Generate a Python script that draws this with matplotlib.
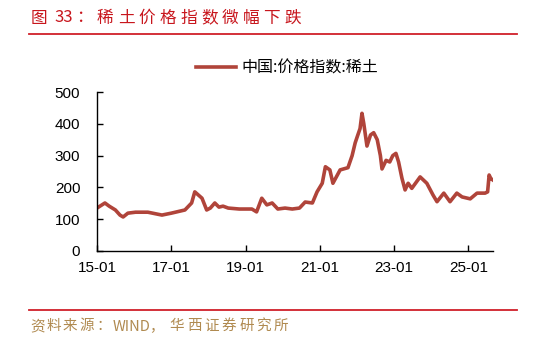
import matplotlib
matplotlib.use("Agg")
import matplotlib.pyplot as plt
import matplotlib.dates as mdates
import pandas as pd

plt.rcParams['font.family'] = ['Liberation Sans', 'Noto Sans CJK SC', 'DejaVu Sans']

title = "图 33：稀土价格指数微幅下跌"
source = "资料来源：WIND，华西证券研究所"
series_name = "中国:价格指数:稀土"

dates = ["2015-01-01", "2015-03-20", "2015-05-01", "2015-07-01", "2015-08-15", "2015-09-15",
         "2015-11-01", "2016-01-15", "2016-05-15", "2016-10-01", "2017-01-01", "2017-05-15",
         "2017-07-20", "2017-08-20", "2017-10-30", "2017-12-15", "2018-01-20", "2018-03-05",
         "2018-04-15", "2018-05-25", "2018-07-15", "2018-11-01", "2019-03-05", "2019-04-20",
         "2019-06-10", "2019-07-30", "2019-09-20", "2019-11-15", "2020-01-25", "2020-04-05",
         "2020-06-15", "2020-08-10", "2020-10-20", "2020-12-05", "2021-01-25", "2021-02-25",
         "2021-04-10", "2021-05-10", "2021-07-20", "2021-10-05", "2021-11-15", "2021-12-15",
         "2022-01-05", "2022-02-01", "2022-02-20", "2022-03-10", "2022-04-10", "2022-05-15",
         "2022-06-15", "2022-07-20", "2022-08-20", "2022-09-05", "2022-10-15", "2022-11-20",
         "2022-12-20", "2023-01-20", "2023-02-15", "2023-03-20", "2023-04-20", "2023-05-20",
         "2023-06-25", "2023-09-15", "2023-11-20", "2024-01-20", "2024-02-28", "2024-05-05",
         "2024-07-05", "2024-09-10", "2024-11-01", "2025-01-20", "2025-03-28", "2025-06-15",
         "2025-07-10", "2025-07-25", "2025-08-10", "2025-09-01"]
values = [135, 151, 141, 129, 113, 107,
          119, 122, 122, 113, 119, 129,
          151, 186, 166, 129, 135, 151,
          138, 141, 135, 132, 132, 123,
          166, 145, 151, 132, 135, 132,
          135, 154, 151, 186, 213, 265,
          255, 213, 255, 262, 300, 340,
          360, 385, 433, 400, 330, 365,
          372, 350, 300, 258, 285, 280,
          300, 307, 280, 229, 192, 213,
          197, 233, 213, 176, 155, 182,
          155, 182, 170, 164, 182, 182,
          186, 239, 228, 223]

yticks = [0, 100, 200, 300, 400, 500]
xtick_dates = ["2015-01-01", "2017-01-01", "2019-01-01", "2021-01-01", "2023-01-01", "2025-01-01"]

x = pd.to_datetime(dates)

fig = plt.figure(figsize=(5.33, 3.4), dpi=100)
W, H = 533, 340

ax = fig.add_axes([97 / W, 1 - 251 / H, (493 - 97) / W, (251 - 92) / H])
line, = ax.plot(x, values, color="#b0443a", lw=2.6, label=series_name)

ax.set_ylim(0, 500)
ax.set_yticks(yticks)
ax.set_xlim(pd.Timestamp("2015-01-01"), x[-1])
ax.set_xticks(pd.to_datetime(xtick_dates))
ax.xaxis.set_major_formatter(mdates.DateFormatter("%y-%m"))
for s in ["top", "right"]:
    ax.spines[s].set_visible(False)
for s in ["left", "bottom"]:
    ax.spines[s].set_linewidth(1.0)
    ax.spines[s].set_color("black")
ax.tick_params(direction="in", length=4, width=1, labelsize=11)
ax.tick_params(axis="y", pad=12)
ax.tick_params(axis="x", pad=7)

leg = fig.legend(handles=[line], loc="center left", bbox_to_anchor=(182 / W, 1 - 68 / H),
                 frameon=False, fontsize=11.5, handlelength=2.5, handletextpad=0.3)
for t in leg.get_texts():
    t.set_family(['Noto Sans CJK SC', 'DejaVu Sans'])

CJK = ['Noto Sans CJK SC', 'DejaVu Sans']


def place_runs(runs, x0, y, **kw):
    # runs: list of (text, pixel advance per run)
    xpos = x0
    for txt, adv in runs:
        fig.text(xpos / W, 1 - y / H, txt, family=CJK, va="center", ha="left", **kw)
        xpos += adv


# header
title_runs = [("图", 23), ("33", 22)] + [("：", 21)] + [(c, 20.8) for c in title[5:]]
place_runs(title_runs, 31, 18, color="#c8161d", fontsize=12)
fig.add_artist(plt.Line2D([29 / W, 517 / W], [1 - 33.5 / H, 1 - 33.5 / H],
                          color="#d0202a", lw=1.3, transform=fig.transFigure))
fig.add_artist(plt.Line2D([29 / W, 517 / W], [1 - 310 / H, 1 - 310 / H],
                          color="#d0202a", lw=1.3, transform=fig.transFigure))
src_runs = [(c, 16.5) for c in source[:5]] + [("WIND，", 57)] + [(c, 17.4) for c in source[10:]]
place_runs(src_runs, 30, 326, color="#b08a50", fontsize=10.5)

fig.savefig("out.png", dpi=100)
